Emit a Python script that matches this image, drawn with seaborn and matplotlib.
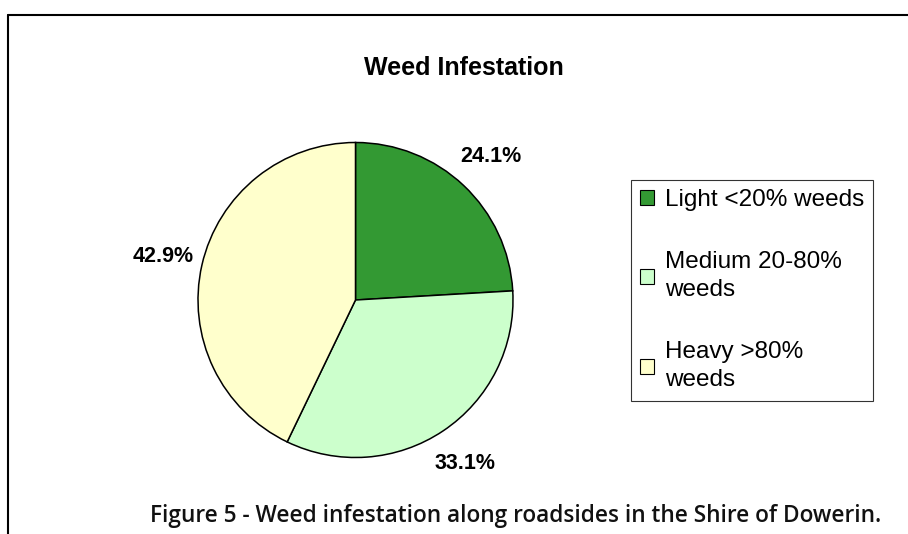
import matplotlib
matplotlib.use("Agg")
import matplotlib.pyplot as plt
from matplotlib.lines import Line2D
import seaborn as sns

# data
categories = ["Light <20% weeds", "Medium 20-80%\nweeds", "Heavy >80%\nweeds"]
shares = [24.1, 33.1, 42.9]
colours = ["#339933", "#CCFFCC", "#FFFFCC"]

sns.set_theme(style="white")
plt.rcParams['font.family'] = ['Liberation Sans', 'DejaVu Sans']
plt.rcParams['text.color'] = 'black'

fig = plt.figure(figsize=(9.08, 5.34), dpi=100)
fig.patch.set_facecolor("white")

# pie axes, sized so the circle sits where it does in the original
ax = fig.add_axes([198 / 908, 76.5 / 534, 315 / 908, 315 / 534])
wedges, texts, autotexts = ax.pie(
    shares, colors=colours, startangle=90, counterclock=False,
    autopct="%.1f%%", pctdistance=1.25,
    wedgeprops=dict(edgecolor="black", linewidth=1.1),
    textprops=dict(fontsize=15.5, fontweight="bold", color="black"))
ax.set_xlim(-1, 1)
ax.set_ylim(-1, 1)
ax.set_aspect("equal")
ax.axis("off")

fig.text(463.5 / 908, 1 - 68 / 534, "Weed Infestation", ha="center", va="center",
         fontsize=18, fontweight="bold", color="black")

leg = fig.legend(wedges, categories, loc="upper left",
                 bbox_to_anchor=(631 / 908, 1 - 180 / 534), bbox_transform=fig.transFigure,
                 borderaxespad=0, fontsize=17.5, frameon=True, fancybox=False,
                 edgecolor="black", handlelength=0.55, handleheight=0.55,
                 handletextpad=0.45, labelspacing=1.65, borderpad=0.38)
leg.get_frame().set_linewidth(0.8)
for h in leg.legend_handles:
    h.set_linewidth(0.8)
for t in leg.get_texts():
    t.set_color("black")
    t.set_linespacing(1.35)

fig.text(150 / 908, 1 - 516 / 534,
         "Figure 5 - Weed infestation along roadsides in the Shire of Dowerin.",
         ha="left", va="center", fontsize=16.3, fontweight="semibold",
         family=["Open Sans", "DejaVu Sans"], color="#111111")

# outer frame (left and top edges only visible)
fig.add_artist(Line2D([7.5 / 908, 7.5 / 908], [0, 1 - 15 / 534], transform=fig.transFigure,
                      color="black", linewidth=1.5))
fig.add_artist(Line2D([7.5 / 908, 1], [1 - 15 / 534, 1 - 15 / 534], transform=fig.transFigure,
                      color="black", linewidth=1.5))

fig.savefig("out.png", dpi=100)
